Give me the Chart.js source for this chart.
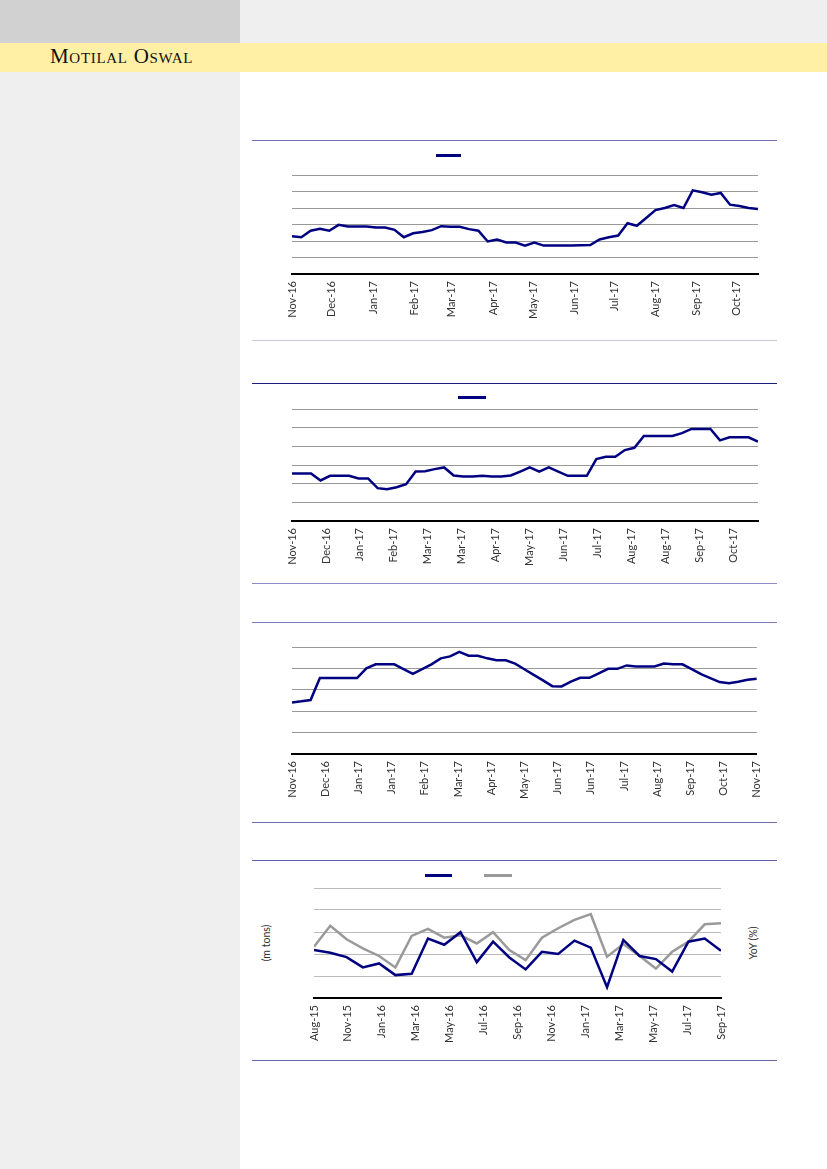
<!DOCTYPE html>
<html>
<head>
<meta charset="utf-8">
<script src="https://cdn.jsdelivr.net/npm/chart.js@4.4.1/dist/chart.umd.min.js"></script>
<style>
  body { margin: 0; width: 827px; height: 1169px; position: relative; background: #fff; overflow: hidden; font-family: Lato, sans-serif; }
  .blk { position: absolute; }
  .rule { position: absolute; left: 252px; width: 525px; height: 1px; }
  .sw { position: absolute; height: 3px; }
  .brand { position: absolute; left: 50px; top: 44px; font-family: 'Liberation Serif', serif; font-variant: small-caps; font-size: 21px; letter-spacing: 0.7px; color: #111; }
  .ytitle { position: absolute; font-size: 10.5px; color: #333; white-space: nowrap; transform: translate(-50%, -50%) rotate(-90deg); }
  canvas { position: absolute; left: 252px; }
</style>
</head>
<body>
<div class="blk" style="left:0;top:0;width:240px;height:43px;background:#d1d1d1"></div>
<div class="blk" style="left:240px;top:0;width:587px;height:43px;background:#efefef"></div>
<div class="blk" style="left:0;top:43px;width:827px;height:29px;background:#fff0a6"></div>
<div class="blk" style="left:0;top:72px;width:240px;height:1097px;background:#efefef"></div>
<div class="brand">Motilal Oswal</div>

<div class="rule" style="top:140px;background:#6f6fb9"></div>
<div class="rule" style="top:340px;background:#c9c9df"></div>
<div class="sw" style="left:436px;top:154px;width:25px;background:#000080"></div>
<canvas id="c1" width="525" height="159" style="top:160px"></canvas>

<div class="rule" style="top:383px;background:#1c1c7e"></div>
<div class="rule" style="top:583px;background:#8c8cc6"></div>
<div class="sw" style="left:458px;top:396px;width:28px;background:#000080"></div>
<canvas id="c2" width="525" height="171" style="top:395px"></canvas>

<div class="rule" style="top:622px;background:#7b7bbf"></div>
<div class="rule" style="top:822px;background:#6c6cb3"></div>
<canvas id="c3" width="525" height="164" style="top:635px"></canvas>

<div class="rule" style="top:860px;background:#5c5caa"></div>
<div class="rule" style="top:1060px;background:#6666b0"></div>
<div class="sw" style="left:425px;top:874px;width:27px;background:#000080"></div>
<div class="sw" style="left:484px;top:874px;width:28px;background:#9a9a9a"></div>
<div class="ytitle" style="left:266px;top:943px">(m tons)</div>
<div class="ytitle" style="left:753px;top:943px">YoY (%)</div>
<canvas id="c4" width="525" height="165" style="top:878px"></canvas>

<script>
// Chart 1 - weekly series, monthly labels
const months1 = ['Nov-16', 'Dec-16', 'Jan-17', 'Feb-17', 'Mar-17', 'Apr-17', 'May-17', 'Jun-17', 'Jul-17', 'Aug-17', 'Sep-17', 'Oct-17'];
const price1 = [2.29, 2.23, 2.62, 2.74, 2.62, 2.98, 2.88, 2.88, 2.88, 2.82,
                2.82, 2.68, 2.23, 2.47, 2.54, 2.66, 2.90, 2.86, 2.86, 2.72,
                2.62, 1.97, 2.09, 1.91, 1.91, 1.72, 1.91, 1.72, 1.72, 1.72,
                1.72, 1.74, 1.76, 2.09, 2.23, 2.33, 3.08, 2.92, 3.39, 3.87,
                4.00, 4.18, 4.00, 5.07, 4.95, 4.81, 4.91, 4.20, 4.12, 4.00, 3.94];

// Chart 2 - weekly series, label every 25 days
const months2 = ['Nov-16', 'Dec-16', 'Jan-17', 'Feb-17', 'Mar-17', 'Mar-17', 'Apr-17', 'May-17', 'Jun-17', 'Jul-17', 'Aug-17', 'Aug-17', 'Sep-17', 'Oct-17'];
const price2 = [2.54, 2.54, 2.54, 2.17, 2.42, 2.42, 2.42, 2.28, 2.28, 1.76,
                1.70, 1.81, 1.97, 2.65, 2.67, 2.78, 2.87, 2.44, 2.38, 2.38,
                2.42, 2.38, 2.38, 2.44, 2.65, 2.87, 2.65, 2.87, 2.65, 2.42,
                2.42, 2.42, 3.32, 3.44, 3.44, 3.80, 3.92, 4.55, 4.55, 4.55,
                4.55, 4.71, 4.93, 4.93, 4.93, 4.32, 4.48, 4.48, 4.48, 4.25];

// Chart 3 - weekly series, label every 25 days
const months3 = ['Nov-16', 'Dec-16', 'Jan-17', 'Jan-17', 'Feb-17', 'Mar-17', 'Apr-17', 'May-17', 'Jun-17', 'Jun-17', 'Jul-17', 'Aug-17', 'Sep-17', 'Oct-17', 'Nov-17'];
const price3 = [2.41, 2.46, 2.52, 3.55, 3.55, 3.55, 3.55, 3.55, 4.00, 4.19,
                4.19, 4.19, 3.97, 3.75, 3.97, 4.19, 4.47, 4.56, 4.77, 4.59,
                4.59, 4.47, 4.38, 4.38, 4.22, 3.96, 3.70, 3.44, 3.17, 3.16,
                3.38, 3.56, 3.56, 3.77, 3.98, 3.98, 4.14, 4.09, 4.09, 4.09,
                4.23, 4.19, 4.19, 3.97, 3.73, 3.55, 3.36, 3.31, 3.38, 3.47, 3.52];

// Chart 4 - monthly, two series (volume and YoY)
const months4 = ['Aug-15', 'Nov-15', 'Jan-16', 'Mar-16', 'May-16', 'Jul-16', 'Sep-16', 'Nov-16', 'Jan-17', 'Mar-17', 'May-17', 'Jul-17', 'Sep-17'];
const volume4 = [2.18, 2.06, 1.86, 1.39, 1.57, 1.04, 1.10, 2.70, 2.42, 2.99, 1.63, 2.56, 1.84,
                 1.30, 2.10, 2.00, 2.61, 2.29, 0.49, 2.64, 1.91, 1.77, 1.20, 2.56, 2.70, 2.15];
const yoy4 = [2.33, 3.28, 2.67, 2.26, 1.91, 1.39, 2.82, 3.14, 2.74, 2.85, 2.48, 2.99, 2.18,
              1.72, 2.74, 3.17, 3.55, 3.81, 1.88, 2.45, 1.91, 1.34, 2.10, 2.56, 3.35, 3.40];

const NAVY = '#000080';
const GREY = '#9a9a9a';

Chart.defaults.font.family = 'Lato, sans-serif';
Chart.defaults.font.size = 11;
Chart.defaults.color = '#333';

// tick positions along the x axis
const monthDays1 = months1.map((m, k) => Math.round((new Date(2016, 10 + k, 1) - new Date(2016, 10, 1)) / 864e5));
const stepDays2 = months2.map((m, k) => k * 25);
const stepDays3 = months3.map((m, k) => k * 25);
// chart 4 labels are spread evenly over the whole axis
const spread4 = months4.map((m, k) => k * (volume4.length - 1) / (months4.length - 1));

function xTicks(names) {
    return { autoSkip: false, maxRotation: 90, minRotation: 90, padding: 7, callback: (v, i) => names[i] };
}

function xScale(max, tickPos, names) {
    return {
        type: 'linear', min: 0, max: max,
        afterBuildTicks: s => { s.ticks = tickPos.map(v => ({ value: v })); },
        afterFit: s => { s.height = 45; },
        ticks: xTicks(names),
        grid: { display: false, drawTicks: false },
        border: { color: '#000', width: 2 }
    };
}

function yScale(max, gridColor) {
    return {
        min: 0, max: max,
        afterFit: s => { s.width = 0; },
        ticks: { display: false, stepSize: 1 },
        grid: { color: gridColor, drawTicks: false },
        border: { display: false }
    };
}

function line(values, color, step, axis) {
    return {
        data: values.map((v, i) => ({ x: i * step, y: v })),
        borderColor: color,
        borderWidth: 2.5,
        pointRadius: 0,
        tension: 0,
        yAxisID: axis
    };
}

function baseOptions(pad, scales) {
    return {
        responsive: false,
        animation: false,
        layout: { padding: pad },
        plugins: { legend: { display: false }, tooltip: { enabled: false } },
        scales: scales
    };
}

function weeklyChart(id, values, names, tickDays, yMax, pad) {
    new Chart(document.getElementById(id), {
        type: 'line',
        data: { datasets: [line(values, NAVY, 7, 'y')] },
        options: baseOptions(pad, {
            x: xScale((values.length - 1) * 7, tickDays, names),
            y: yScale(yMax, '#999')
        })
    });
}

weeklyChart('c1', price1, months1, monthDays1, 6, { top: 15, left: 40, right: 19, bottom: 0 });
weeklyChart('c2', price2, months2, stepDays2, 6, { top: 14, left: 40, right: 19, bottom: 0 });
weeklyChart('c3', price3, months3, stepDays3, 5, { top: 12, left: 40, right: 19, bottom: 0 });

new Chart(document.getElementById('c4'), {
    type: 'line',
    data: {
        datasets: [
            line(volume4, NAVY, 1, 'y'),
            line(yoy4, GREY, 1, 'y1')
        ]
    },
    options: baseOptions({ top: 10, left: 62, right: 56, bottom: 0 }, {
        x: xScale(volume4.length - 1, spread4, months4),
        y: yScale(5, '#bbb'),
        y1: { position: 'right', min: 0, max: 5, display: false }
    })
});
</script>
</body>
</html>
